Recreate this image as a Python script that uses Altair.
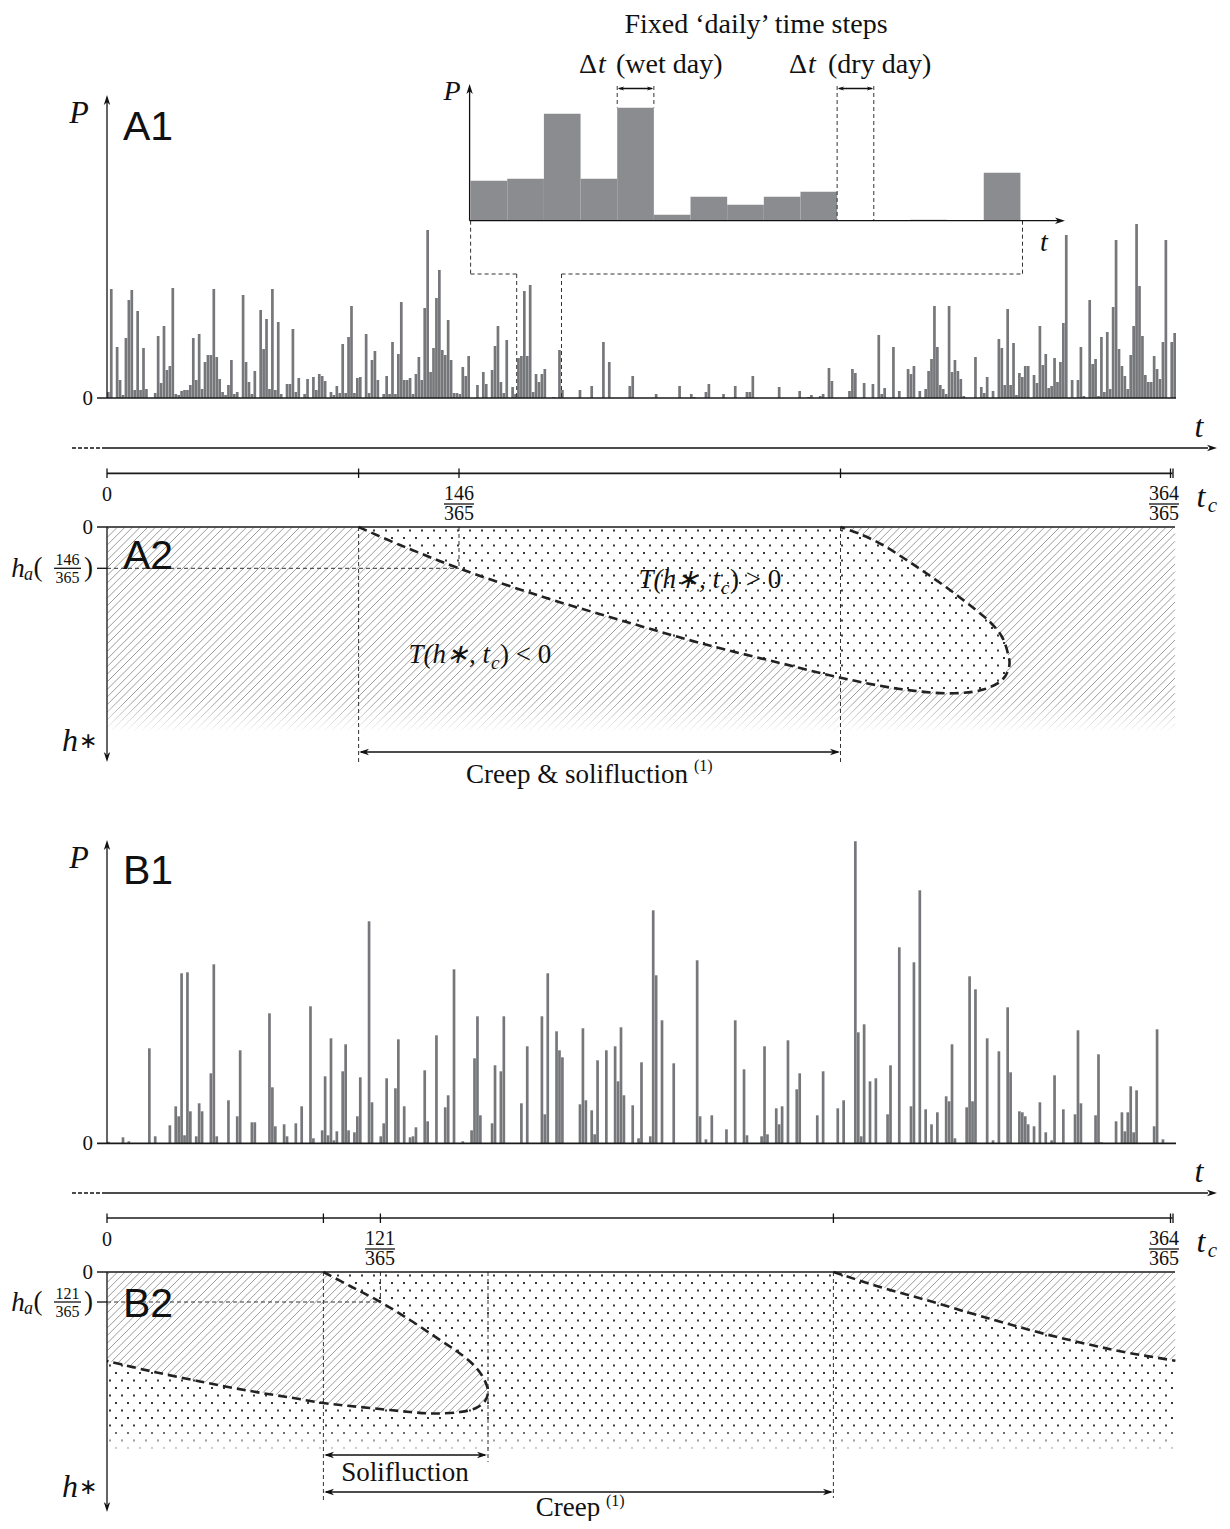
import altair as alt
import numpy as np
import pandas as pd

# ---------------- data ----------------
DAYS = list(range(365))

# A1: daily precipitation (arbitrary units, 1 unit = 1 px of bar height)
P_A1 = [
    6, 109, 0, 51, 18, 3, 60, 98, 108, 8, 87, 8, 50, 9, 0, 0, 5, 62, 15, 72,
    28, 32, 110, 4, 3, 7, 8, 8, 13, 60, 18, 64, 9, 36, 43, 43, 109, 41, 19, 6,
    3, 13, 38, 4, 6, 0, 103, 36, 16, 4, 27, 0, 88, 49, 79, 9, 109, 8, 76, 4,
    0, 14, 14, 69, 6, 20, 0, 4, 19, 0, 21, 8, 24, 22, 17, 0, 6, 3, 12, 5,
    54, 5, 61, 92, 5, 20, 21, 0, 64, 5, 38, 47, 18, 0, 4, 22, 4, 56, 4, 44,
    96, 18, 18, 20, 4, 24, 41, 18, 90, 168, 26, 50, 100, 128, 48, 43, 78, 38, 5, 5,
    4, 31, 22, 42, 0, 0, 13, 0, 26, 14, 0, 28, 52, 72, 16, 5, 58, 0, 11, 4,
    40, 42, 107, 42, 113, 6, 24, 16, 24, 29, 0, 0, 1, 0, 48, 8, 0, 0, 0, 0,
    0, 8, 0, 0, 0, 12, 0, 0, 0, 56, 0, 36, 0, 0, 0, 0, 0, 0, 12, 22,
    0, 0, 0, 0, 0, 0, 0, 4, 0, 0, 0, 0, 0, 0, 0, 12, 0, 0, 0, 4,
    1, 0, 0, 0, 6, 14, 0, 0, 0, 0, 4, 0, 0, 0, 12, 0, 0, 0, 6, 6,
    22, 0, 0, 0, 0, 0, 0, 0, 0, 11, 0, 0, 0, 0, 0, 0, 7, 0, 0, 1,
    3, 0, 0, 2, 4, 0, 30, 17, 0, 0, 0, 0, 0, 7, 29, 25, 0, 0, 15, 0,
    0, 14, 0, 63, 4, 10, 0, 0, 51, 0, 7, 0, 0, 29, 24, 32, 0, 7, 0, 9,
    27, 39, 92, 51, 13, 9, 4, 92, 26, 38, 27, 19, 2, 0, 0, 0, 41, 0, 11, 5,
    21, 0, 7, 0, 59, 50, 13, 89, 13, 55, 3, 25, 21, 32, 32, 0, 23, 15, 72, 33,
    44, 10, 12, 40, 16, 36, 75, 163, 0, 18, 0, 18, 51, 2, 0, 98, 34, 39, 2, 61,
    6, 66, 9, 91, 158, 49, 32, 22, 9, 43, 72, 174, 112, 62, 23, 16, 16, 42, 29, 19,
    56, 158, 0, 56, 65,
]

# B1: daily precipitation
P_B1 = [
    1.5, 0, 0, 0, 0, 6, 0, 2, 0, 0, 0, 0, 0, 0, 95, 0, 7, 0, 0, 0,
    0, 18, 0, 37, 27, 170, 8, 171, 32, 0, 7, 40, 32, 0, 0, 70, 179, 7, 0, 0,
    0, 43, 0, 0, 27, 93, 0, 0, 0, 21, 21, 0, 0, 0, 0, 130, 56, 17, 0, 0,
    19, 7, 0, 0, 20, 0, 37, 0, 0, 137, 5, 0, 0, 13, 67, 8, 105, 3, 12, 0,
    72, 99, 13, 0, 11, 27, 66, 0, 0, 222, 41, 0, 0, 7, 20, 65, 0, 0, 55, 104,
    0, 37, 0, 6, 7, 16, 0, 0, 73, 22, 0, 0, 108, 0, 0, 36, 48, 0, 174, 0,
    0, 2, 0, 0, 13, 85, 127, 28, 0, 0, 0, 20, 78, 0, 72, 127, 0, 0, 0, 0,
    0, 40, 0, 97, 0, 0, 0, 0, 127, 29, 170, 0, 0, 112, 93, 86, 0, 0, 0, 0,
    0, 39, 115, 43, 0, 33, 9, 83, 0, 0, 93, 0, 0, 97, 62, 116, 48, 0, 0, 38,
    0, 5, 81, 0, 0, 7, 233, 168, 0, 123, 0, 0, 0, 80, 0, 0, 0, 0, 0, 0,
    0, 183, 27, 0, 4, 0, 28, 0, 0, 0, 0, 14, 0, 0, 123, 0, 0, 74, 8, 0,
    0, 0, 0, 7, 97, 9, 0, 0, 35, 19, 37, 0, 103, 0, 0, 54, 70, 0, 0, 0,
    0, 0, 28, 0, 72, 0, 0, 0, 0, 35, 0, 43, 0, 0, 0, 302, 111, 7, 119, 0,
    62, 0, 65, 0, 0, 0, 29, 78, 0, 0, 196, 0, 0, 0, 37, 181, 0, 253, 0, 34,
    0, 19, 0, 31, 0, 0, 47, 42, 99, 5, 0, 0, 0, 36, 167, 42, 154, 0, 0, 0,
    105, 0, 3, 0, 92, 0, 0, 136, 71, 0, 0, 32, 31, 27, 19, 0, 17, 0, 41, 0,
    11, 0, 3, 68, 0, 0, 34, 0, 0, 0, 29, 113, 40, 0, 0, 0, 0, 28, 89, 1,
    0, 0, 0, 0, 22, 0, 31, 12, 31, 57, 11, 53, 0, 0, 0, 0, 0, 17, 114, 0,
    4, 0, 0, 0, 0,
]

# Inset: 15 consecutive days zoomed from A1
INSET_FIRST_DAY = 140
INSET_N = 15
P_INSET = P_A1[INSET_FIRST_DAY:INSET_FIRST_DAY + INSET_N]

# Boundary curves T(h*, t_c) = 0  (page-pixel geometry of the schematic)
A2_LOOP = [(358.6, 527), (400, 545), (459, 568.3), (540, 596), (620, 620), (700, 643),
           (780, 663), (840.5, 677.7), (900, 689), (954, 693.3), (985, 689), (1003, 679),
           (1009.4, 665), (1007, 650), (1001.5, 636), (990, 622), (973.8, 608.3),
           (950, 590), (926.3, 573.3), (905, 559), (882.8, 545), (860, 534), (840.5, 527)]
B2_LOOP = [(323.4, 1272), (350, 1286), (380.4, 1302), (410, 1320), (435, 1336.7),
           (455, 1350), (470.5, 1362), (481, 1374), (487, 1386), (488, 1393), (485, 1401),
           (476, 1408), (460, 1412), (435, 1413.5), (410, 1412), (380, 1409), (350, 1406),
           (323.4, 1403), (290, 1397.5), (250, 1391), (200, 1381.5), (150, 1371),
           (107, 1361)]
B2_RIGHT = [(833.4, 1272), (880, 1287), (926.3, 1300), (970, 1313), (1005, 1323),
            (1045, 1334), (1084.5, 1343.5), (1124, 1352), (1175.4, 1360.7)]

# ---------------- layout ----------------
W, H = 1214, 1513
OFF = 8
SERIF = "Liberation Serif"
SANS = "Liberation Sans"
BAR = "#76777a"
BAR_INSET = "#8b8c8f"
INK = "#111111"
DASH_C = "#333333"


def sx():
    return alt.Scale(domain=[OFF, OFF + W], range=[0, W], nice=False, zero=False)


def sy():
    return alt.Scale(domain=[OFF, OFF + H], range=[0, H], nice=False, zero=False)


def XY():
    return dict(x=alt.X("x:Q", scale=sx(), axis=None), y=alt.Y("y:Q", scale=sy(), axis=None))


def rules(rows, **mk):
    df = pd.DataFrame(rows, columns=["x", "y", "x2", "y2"])
    return alt.Chart(df).mark_rule(**mk).encode(x2="x2:Q", y2="y2:Q", **XY())


def texts(rows, **mk):
    df = pd.DataFrame(rows, columns=["x", "y", "t"])
    return alt.Chart(df).mark_text(**mk).encode(text="t:N", **XY())


ARROW = "M0,0L-1,-0.32L-0.72,0L-1,0.32Z"


def heads(rows, size):
    df = pd.DataFrame(rows, columns=["x", "y", "a"])
    return alt.Chart(df).mark_point(shape=ARROW, filled=True, color=INK, size=size,
                                    opacity=1, strokeWidth=0).encode(
        angle=alt.Angle("a:Q", scale=None), **XY())


def curve(pts):
    df = pd.DataFrame(pts, columns=["x", "y"])
    df["i"] = range(len(df))
    return alt.Chart(df).mark_line(strokeDash=[9, 5], strokeWidth=2.6, color="#222222",
                                   interpolate="catmull-rom").encode(
        order="i:Q", **XY())


# ---------------- geometry helpers for textures ----------------
def inside(xs, ys, poly):
    poly = np.asarray(poly, float)
    x0, y0 = poly[:, 0], poly[:, 1]
    x1, y1 = np.roll(x0, -1), np.roll(y0, -1)
    res = np.zeros(np.shape(xs), bool)
    for a, b, c, d in zip(x0, y0, x1, y1):
        cond = (b > ys) != (d > ys)
        xint = a + (ys - b) * (c - a) / ((d - b) if d != b else 1e-9)
        res ^= cond & (xs < xint)
    return res


def hatch(xmin, xmax, ymin, ymax, keep, step=7.6):
    segs = []
    for c in np.arange(xmin + ymin + 2, xmax + ymax, step):
        xa, xb = max(xmin, c - ymax), min(xmax, c - ymin)
        if xb - xa < 0.5:
            continue
        xs = np.append(np.arange(xa, xb, 0.4), xb)
        ys = c - xs
        k = keep(xs, ys)
        start = None
        for j in range(len(xs)):
            if k[j] and start is None:
                start = j
            if (not k[j] or j == len(xs) - 1) and start is not None:
                end = j if k[j] else j - 1
                if end > start:
                    segs.append((xs[start], ys[start], xs[end], ys[end]))
                start = None
    return segs


def dots(xmin, xmax, ymin, ymax, keep, dx=12.0, dy=7.5):
    pts = []
    for j, y in enumerate(np.arange(ymin + 3.5, ymax, dy)):
        xs = np.arange(xmin + 3 + (j % 2) * dx / 2, xmax, dx)
        ys = np.full_like(xs, y)
        k = keep(xs, ys)
        pts += list(zip(xs[k], ys[k]))
    return pts


# A2 textures
a2_hatch = hatch(107.5, 1175, 527.5, 731, lambda xs, ys: ~inside(xs, ys, A2_LOOP))
a2_dots = dots(107, 1175, 527, 700, lambda xs, ys: inside(xs, ys, A2_LOOP))
# B2 textures
B2_H1 = [(107.5, 1272)] + B2_LOOP + [(107.5, 1361)]
B2_H2 = B2_RIGHT + [(1175.4, 1272)]
b2_hatch = hatch(107.5, 1175.4, 1272.5, 1416,
                 lambda xs, ys: inside(xs, ys, B2_H1) | inside(xs, ys, B2_H2))
b2_dots = dots(107, 1177, 1272, 1454,
               lambda xs, ys: ~(inside(xs, ys, B2_H1) | inside(xs, ys, B2_H2)))

layers = []

# hatch and dots
layers.append(rules(a2_hatch + b2_hatch, color="#9c9c9c", strokeWidth=1.0))
dd = pd.DataFrame(a2_dots + b2_dots, columns=["x", "y"])
layers.append(alt.Chart(dd).mark_square(size=3.2, color="#1e1e1e", opacity=1).encode(**XY()))

# fading of textures at the bottom
fade = alt.Gradient(gradient="linear",
                    stops=[alt.GradientStop(color="rgba(255,255,255,0)", offset=0),
                           alt.GradientStop(color="#ffffff", offset=1)],
                    x1=0, x2=0, y1=0, y2=1)
fd = pd.DataFrame([(107.6, 700, 1180, 733), (107.6, 1424, 1180, 1456)],
                  columns=["x", "y", "x2", "y2"])
layers.append(alt.Chart(fd).mark_rect(color=fade).encode(x2="x2:Q", y2="y2:Q", **XY()))


# ---- bars A1 / B1 (own scales: day band scale, P linear) ----
def bars(values, base_y, color):
    df = pd.DataFrame({"day": DAYS, "P": values})
    return alt.Chart(df).mark_bar(color=color).encode(
        x=alt.X("day:O", scale=alt.Scale(domain=DAYS, range=[107 - OFF, 1176 - OFF],
                                         paddingInner=0.08, paddingOuter=0), axis=None),
        y=alt.Y("P:Q", scale=alt.Scale(domain=[0, 100], range=[base_y - OFF, base_y - 100 - OFF],
                                       nice=False, zero=False), axis=None),
        y2=alt.datum(0))


layers.append(bars(P_A1, 398, BAR))
layers.append(bars(P_B1, 1143.3, BAR))

# inset bars
INSET_X0, INSET_X1 = 470.6, 1020.4
INSET_BASE = 220.7
di = pd.DataFrame({"i": list(range(INSET_N)), "P": P_INSET})
di["i2"] = di["i"] + 1
layers.append(alt.Chart(di).mark_bar(color=BAR_INSET).encode(
    x=alt.X("i:Q", scale=alt.Scale(domain=[0, INSET_N], range=[INSET_X0 - OFF, INSET_X1 - OFF],
                                   nice=False, zero=False), axis=None),
    x2="i2:Q",
    y=alt.Y("P:Q", scale=alt.Scale(domain=[0, 100], range=[INSET_BASE - OFF, INSET_BASE - 100 - OFF],
                                   nice=False, zero=False), axis=None),
    y2=alt.datum(0)))

BW = (INSET_X1 - INSET_X0) / INSET_N
wet_l, wet_r = INSET_X0 + 4 * BW, INSET_X0 + 5 * BW
dry_l, dry_r = INSET_X0 + 10 * BW, INSET_X0 + 11 * BW

# curves
layers.append(curve(A2_LOOP))
layers.append(curve(B2_LOOP))
layers.append(curve(B2_RIGHT))

# dashed guide lines
dashed = [
    (wet_l, 86, wet_l, 107.5), (wet_r, 86, wet_r, 107.5),
    (dry_l, 86, dry_l, INSET_BASE), (dry_r, 86, dry_r, INSET_BASE),
    (470.6, INSET_BASE, 470.6, 274), (470.6, 274, 516.7, 274), (516.7, 274, 516.7, 398),
    (1022.5, INSET_BASE, 1022.5, 274), (561.5, 274, 1022.5, 274), (561.5, 274, 561.5, 398),
    (358.6, 527, 358.6, 762), (840.5, 527, 840.5, 762), (459, 527, 459, 568.3),
    (107, 568.3, 459, 568.3),
    (323.4, 1272, 323.4, 1500), (833.4, 1272, 833.4, 1498), (488, 1272, 488, 1462),
    (380.4, 1272, 380.4, 1302), (107, 1302, 380.4, 1302),
]
layers.append(rules(dashed, color=DASH_C, strokeWidth=1, strokeDash=[4, 3]))
layers.append(rules([(72, 448, 102, 448), (72, 1193, 102, 1193)],
                    color=INK, strokeWidth=1.4, strokeDash=[4, 2]))

# solid lines
solid_thick = [
    (97, 398, 1176, 398), (97, 1143.3, 1176, 1143.3),
    (107, 473.3, 1172.5, 473.3), (107, 1218, 1172.5, 1218),
    (97, 527, 1175, 527), (97, 1272, 1175, 1272),
]
layers.append(rules(solid_thick, color="#1a1a1a", strokeWidth=1.7))
solid = [
    (107, 398, 107, 100), (107, 1143.3, 107, 846),
    (469.6, INSET_BASE, 469.6, 90), (469.6, INSET_BASE, 1058, INSET_BASE),
    (wet_l + 2, 88.5, wet_r - 2, 88.5), (dry_l + 2, 88.5, dry_r - 2, 88.5),
    (102, 448, 1208, 448), (102, 1193, 1208, 1193),
    (107, 527, 107, 754), (107, 1272, 107, 1504),
    (97, 568.3, 107, 568.3), (97, 1302, 107, 1302),
    (361, 752, 838, 752), (326, 1455, 485, 1455), (326, 1492, 831, 1492),
    # tc ticks
    (107, 468.5, 107, 478), (358.6, 468.5, 358.6, 478), (459, 468.5, 459, 478),
    (840.5, 468.5, 840.5, 478), (1170.5, 468.5, 1170.5, 478), (1173, 468.5, 1173, 478),
    (107, 1213.5, 107, 1223), (323.4, 1213.5, 323.4, 1223), (380.4, 1213.5, 380.4, 1223),
    (833.4, 1213.5, 833.4, 1223), (1170.5, 1213.5, 1170.5, 1223), (1173, 1213.5, 1173, 1223),
    # fraction bars
    (444, 504, 474, 504), (1149, 504, 1179, 504), (365, 1249, 395, 1249), (1149, 1249, 1179, 1249),
    (54, 568.3, 81, 568.3), (54, 1302, 81, 1302),
]
layers.append(rules(solid, color=INK, strokeWidth=1.3))

# arrowheads
layers.append(heads([
    (107, 95, 270), (107, 840, 270), (469.6, 84, 270), (1065, INSET_BASE, 0),
    (1217, 448, 0), (1217, 1193, 0), (107, 762, 90), (107, 1512, 90),
    (359, 752, 180), (840, 752, 0), (324, 1455, 180), (487, 1455, 0),
    (324, 1492, 180), (833, 1492, 0)], 400))
layers.append(heads([(wet_l + 0.5, 88.5, 180), (wet_r - 0.5, 88.5, 0),
                     (dry_l + 0.5, 88.5, 180), (dry_r - 0.5, 88.5, 0)], 170))

# ---------------- texts ----------------
layers.append(texts([(79, 113, "P"), (79, 858, "P"), (1199, 427, "t"), (1199, 1172, "t"),
                     (1201, 497, "t"), (1201, 1242, "t"), (70, 741, "h"), (70, 1487, "h")],
                    font=SERIF, fontStyle="italic", fontSize=32, color=INK))
layers.append(texts([(88, 741, "∗"), (88, 1487, "∗")], font=SERIF, fontSize=22, color=INK))
layers.append(texts([(452, 92, "P"), (1044, 243, "t")],
                    font=SERIF, fontStyle="italic", fontSize=28, color=INK))
layers.append(texts([(1212.5, 506, "c"), (1212.5, 1251, "c")],
                    font=SERIF, fontStyle="italic", fontSize=21, color=INK))
layers.append(texts([(148, 128, "A1"), (148, 557, "A2"), (148, 872, "B1"), (148, 1305, "B2")],
                    font=SANS, fontSize=41, color=INK))
layers.append(texts([(93, 399, "0"), (93, 528, "0"), (93, 1144, "0"), (93, 1273, "0")],
                    font=SERIF, fontSize=21, align="right", color=INK))
layers.append(texts([(107, 495, "0"), (107, 1240, "0"),
                     (459, 494, "146"), (459, 514, "365"), (1164, 494, "364"), (1164, 514, "365"),
                     (380, 1239, "121"), (380, 1259, "365"), (1164, 1239, "364"), (1164, 1259, "365")],
                    font=SERIF, fontSize=20, color=INK))
# h_a( . ) labels
for y0, num in [(568.3, "146"), (1302, "121")]:
    layers.append(texts([(18, y0 + 1, "h")], font=SERIF, fontStyle="italic", fontSize=27, color=INK))
    layers.append(texts([(28.5, y0 + 7, "a")], font=SERIF, fontStyle="italic", fontSize=18, color=INK))
    layers.append(texts([(38, y0, "("), (88.5, y0, ")")], font=SERIF, fontSize=27, color=INK))
    layers.append(texts([(67.5, y0 - 8.5, num), (67.5, y0 + 10, "365")],
                        font=SERIF, fontSize=16, color=INK))

# T(h*, t_c) labels
for (xr, yb, sign) in [(720, 588, ">"), (490, 663, "<")]:
    layers.append(texts([(xr, yb, "T(h∗, t")], font=SERIF, fontStyle="italic", fontSize=27,
                        align="right", baseline="alphabetic", color=INK))
    layers.append(texts([(xr + 1, yb + 6, "c")], font=SERIF, fontStyle="italic", fontSize=19,
                        align="left", baseline="alphabetic", color=INK))
    layers.append(texts([(xr + 10, yb, ") " + sign + " 0")], font=SERIF, fontSize=27,
                        align="left", baseline="alphabetic", color=INK))

# inset annotations
layers.append(texts([(756, 25, "Fixed ‘daily’ time steps")], font=SERIF, fontSize=28, color=INK))
layers.append(texts([(597, 65, "Δ"), (807, 65, "Δ")], font=SERIF, fontSize=28, align="right", color=INK))
layers.append(texts([(598, 65, "t"), (808, 65, "t")], font=SERIF, fontStyle="italic", fontSize=28,
                    align="left", color=INK))
layers.append(texts([(616, 65, "(wet day)"), (828, 65, "(dry day)")], font=SERIF, fontSize=28,
                    align="left", color=INK))

# process labels
layers.append(texts([(577, 775, "Creep & solifluction"), (405, 1473, "Solifluction")],
                    font=SERIF, fontSize=27, color=INK))
layers.append(texts([(568, 1508, "Creep")], font=SERIF, fontSize=27, color=INK))
layers.append(texts([(694, 766, "(1)"), (606, 1501, "(1)")], font=SERIF, fontSize=16,
                    align="left", color=INK))

chart = alt.layer(*layers).resolve_scale(x="independent", y="independent").properties(
    width=W, height=H, padding=0, autosize=alt.AutoSizeParams(type="none")
).configure_view(stroke=None)

chart.save("out.html", embed_options={"renderer": "svg", "actions": False})
